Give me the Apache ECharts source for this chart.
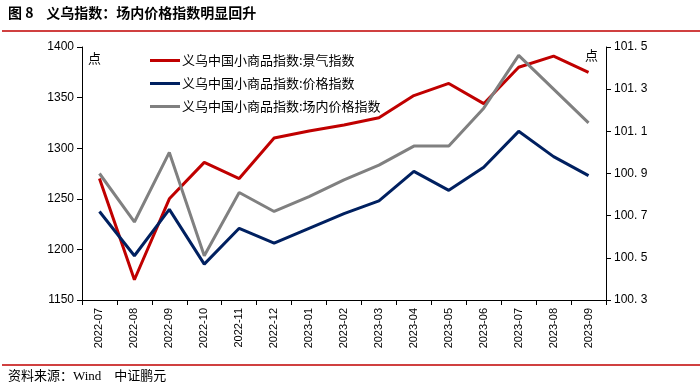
<!DOCTYPE html>
<html><head><meta charset="utf-8">
<script src="https://cdn.jsdelivr.net/npm/echarts@6/dist/echarts.min.js"></script>
<style>html,body{margin:0;padding:0;background:#fff}#c{width:700px;height:390px}</style>
</head><body><div id="c"></div>
<script>
const categories = ['2022-07','2022-08','2022-09','2022-10','2022-11','2022-12','2023-01','2023-02','2023-03','2023-04','2023-05','2023-06','2023-07','2023-08','2023-09'];
const prosperity = [1270,1170,1250,1286,1270,1310,1317,1323,1330,1352,1364,1344,1380,1391,1375];
const priceIndex = [100.72,100.51,100.73,100.47,100.64,100.57,100.64,100.71,100.77,100.91,100.82,100.93,101.10,100.98,100.89];
const marketPrice = [100.90,100.67,101.00,100.51,100.81,100.72,100.79,100.87,100.94,101.03,101.03,101.21,101.46,101.30,101.14];
const seriesNames = ['义乌中国小商品指数:景气指数','义乌中国小商品指数:价格指数','义乌中国小商品指数:场内价格指数'];
const titleText = '图 8    义乌指数：场内价格指数明显回升';
const sourceText = '资料来源：Wind    中证鹏元';

const chart = echarts.init(document.getElementById('c'));
const axisFont = {fontFamily:'Liberation Sans, Arial, sans-serif', fontSize:12, color:'#000'};
chart.setOption({
  animation:false,
  textStyle:{fontFamily:'Noto Sans CJK SC'},
  grid:{left:82, right:94, top:47, bottom:90},
  legend:{
    orient:'vertical', left:145, top:49, itemWidth:30, itemHeight:3, itemGap:10,
    data:seriesNames,
    icon:'rect',
    textStyle:{fontFamily:'Noto Sans CJK SC', fontSize:13, color:'#000', padding:[0,0,0,-3]}
  },
  xAxis:{
    type:'category', data:categories, boundaryGap:true,
    axisLine:{lineStyle:{color:'#000', width:1}},
    axisTick:{show:true, alignWithLabel:false, length:5, lineStyle:{color:'#000'}},
    axisLabel:{rotate:90, interval:0, fontFamily:'Liberation Sans, Arial, sans-serif', fontSize:11, color:'#000', margin:8}
  },
  yAxis:[
    {type:'value', min:1150, max:1400, interval:50, position:'left',
     axisLine:{show:true, lineStyle:{color:'#000'}}, axisTick:{show:true, length:5, lineStyle:{color:'#000'}},
     splitLine:{show:false}, axisLabel:Object.assign({margin:8, formatter:v=>String(v)}, axisFont)},
    {type:'value', min:100.3, max:101.5, interval:0.2, position:'right',
     axisLine:{show:true, lineStyle:{color:'#000'}}, axisTick:{show:true, length:5, lineStyle:{color:'#000'}},
     splitLine:{show:false},
     axisLabel:Object.assign({margin:8, formatter:v=>v.toFixed(1).replace('.', '. ')}, axisFont)}
  ],
  series:[
    {name:seriesNames[0], type:'line', yAxisIndex:0, data:prosperity, symbol:'none', lineStyle:{width:3, color:'#c00000'}, itemStyle:{color:'#c00000'}},
    {name:seriesNames[1], type:'line', yAxisIndex:1, data:priceIndex, symbol:'none', lineStyle:{width:3, color:'#002060'}, itemStyle:{color:'#002060'}},
    {name:seriesNames[2], type:'line', yAxisIndex:1, data:marketPrice, symbol:'none', lineStyle:{width:3, color:'#808080'}, itemStyle:{color:'#808080'}}
  ],
  graphic:[
    {type:'text', left:8, top:6, style:{text:titleText, fontSize:14, fontWeight:'bold', fontFamily:'Noto Sans CJK SC', fill:'#000'}},
    {type:'line', shape:{x1:2, y1:31, x2:700, y2:31}, style:{stroke:'#c00000', lineWidth:1.5}},
    {type:'text', left:88, top:52, style:{text:'点', fontSize:13, fontFamily:'Noto Sans CJK SC', fill:'#000'}},
    {type:'text', left:585, top:49, style:{text:'点', fontSize:13, fontFamily:'Noto Sans CJK SC', fill:'#000'}},
    {type:'line', shape:{x1:2, y1:365, x2:700, y2:365}, style:{stroke:'#c00000', lineWidth:1.5}},
    {type:'text', left:8, top:370, style:{text:sourceText, fontSize:13, fontFamily:'Liberation Serif, Noto Sans CJK SC, serif', fill:'#000'}}
  ]
});
</script>
</body></html>
